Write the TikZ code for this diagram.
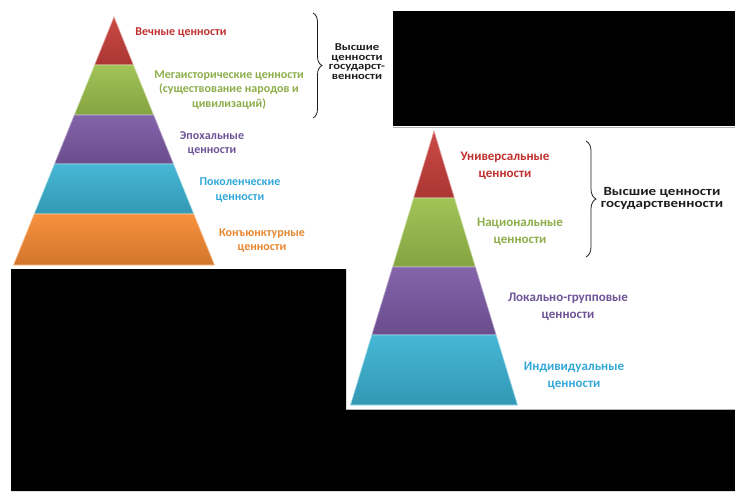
\documentclass[tikz,border=0pt]{standalone}
\usepackage{fontspec}
\setmainfont{Carlito}
\newfontfamily\widefont{Carlito}[FakeStretch=1.2]
\usetikzlibrary{decorations.pathreplacing}
\definecolor{bred}{HTML}{C8403C}
\definecolor{bgreen}{HTML}{9CC04E}
\definecolor{bpurple}{HTML}{7D5BA6}
\definecolor{bcyan}{HTML}{3CB3D3}
\definecolor{borange}{HTML}{F78B34}
\definecolor{tred}{HTML}{C0302F}
\definecolor{tgreen}{HTML}{8DAE4B}
\definecolor{tpurple}{HTML}{6E5497}
\definecolor{tcyan}{HTML}{33A9D9}
\definecolor{torange}{HTML}{E8872F}
\definecolor{tdark}{HTML}{1E1E1E}
\begin{document}
\begin{tikzpicture}[x=1pt,y=-1pt,
  band/.style={top color=#1!95!white,bottom color=#1!85!black,draw=#1!50!white,line width=0.6pt},
  small/.style={font=\bfseries\fontsize{12}{14.5}\selectfont,align=center},
  big/.style={font=\bfseries\fontsize{13}{17}\selectfont,align=center},
  tiny/.style={font=\widefont\bfseries\fontsize{10.5}{9.7}\selectfont,align=center,text=tdark},
  curly/.style={decorate,decoration={brace,amplitude=#1},draw=tdark,line width=0.8pt}]
\useasboundingbox[fill=white](0,0) rectangle (735,491);
% black cover areas
\fill[black](393,11) rectangle (735,126);
\draw[gray!60,line width=1pt](393,127) -- (735,127);
\fill[black](11,269) -- (346,269) -- (346,409) -- (735,409) -- (735,491) -- (11,491) -- cycle;
\draw[gray!60,line width=1pt](346,409.5) -- (735,409.5);
% left pyramid
\path[band=bred](114,17) -- (133.4,65) -- (94.6,65) -- cycle;
\path[band=bgreen](94.6,65) -- (133.4,65) -- (153.7,115) -- (74.3,115) -- cycle;
\path[band=bpurple](74.3,115) -- (153.7,115) -- (173.5,164) -- (54.5,164) -- cycle;
\path[band=bcyan](54.5,164) -- (173.5,164) -- (193.8,214) -- (34.2,214) -- cycle;
\path[band=borange](34.2,214) -- (193.8,214) -- (214.5,265) -- (13.5,265) -- cycle;
\node[small,text=tred](eternal) at (181,33){Вечные ценности};
\node[small,text=tgreen](megahist) at (229,90){Мегаисторические ценности\\(существование народов и\\цивилизаций)};
\node[small,text=tpurple](epoch) at (212,143.5){Эпохальные\\ценности};
\node[small,text=tcyan](generation) at (240,190){Поколенческие\\ценности};
\node[small,text=torange](conjunct) at (262,240.5){Конъюнктурные\\ценности};
\coordinate (ltop) at (313,13);
\coordinate (lbot) at (313,118);
\draw[curly=9pt](ltop) -- (lbot);
\node[tiny](lhigh) at (357,61.5){Высшие\\ценности\\государст-\\венности};
% right pyramid
\path[band=bred](434,131) -- (454.4,198) -- (413.6,198) -- cycle;
\path[band=bgreen](413.6,198) -- (454.4,198) -- (475.4,267) -- (392.6,267) -- cycle;
\path[band=bpurple](392.6,267) -- (475.4,267) -- (496.2,335) -- (371.8,335) -- cycle;
\path[band=bcyan](371.8,335) -- (496.2,335) -- (517.5,405) -- (350.5,405) -- cycle;
\node[big,text=tred](universal) at (505,165.5){Универсальные\\ценности};
\node[big,text=tgreen](national) at (520,232){Национальные\\ценности};
\node[big,text=tpurple](local) at (568,306.5){Локально-групповые\\ценности};
\node[big,text=tcyan](individual) at (574,375.5){Индивидуальные\\ценности};
\coordinate (rtop) at (586,141);
\coordinate (rbot) at (586,257);
\draw[curly=10pt](rtop) -- (rbot);
\node[align=center,font=\widefont\bfseries\fontsize{12.5}{12}\selectfont,text=tdark](rhigh) at (662,198){Высшие ценности\\государственности};
\end{tikzpicture}
\end{document}
